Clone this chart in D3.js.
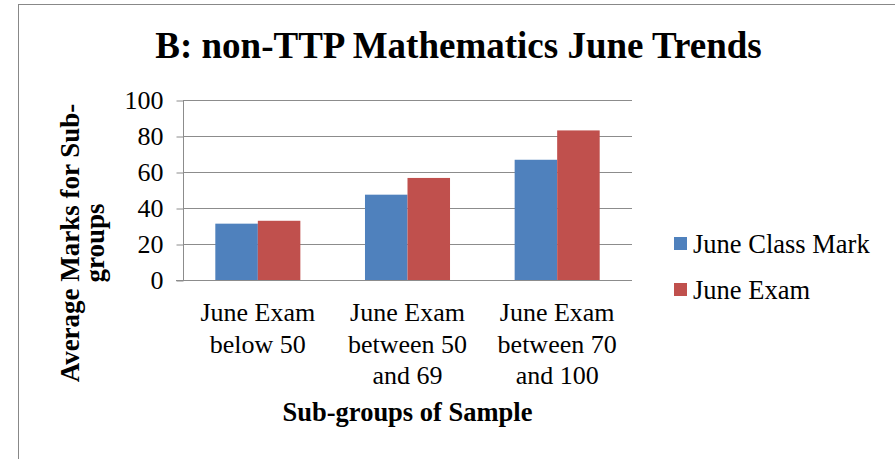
<!DOCTYPE html>
<html>
<head>
<meta charset="utf-8">
<script src="https://cdn.jsdelivr.net/npm/d3@7"></script>
<style>
  body { margin: 0; background: #fff; }
  svg text { font-family: "Liberation Serif", "Times New Roman", Times, serif; }
</style>
</head>
<body>
<svg width="895" height="459"></svg>
<script>
// data
var categories = [["June Exam", "below 50"], ["June Exam", "between 50", "and 69"], ["June Exam", "between 70", "and 100"]];
var seriesNames = ["June Class Mark", "June Exam"];
var classMark = [31.3, 47.4, 66.8];
var examMark = [32.9, 56.7, 83.1];
var yTicks = [0, 20, 40, 60, 80, 100];

var svg = d3.select("svg"),
    margin = { top: 100, left: 183 },
    width = 449,
    height = 180,
    g = svg.append("g").attr("transform", "translate(" + margin.left + "," + margin.top + ")");

// outer chart border
svg.append("rect")
    .attr("x", 18.5).attr("y", 4.5)
    .attr("width", 900).attr("height", 470)
    .attr("fill", "none").attr("stroke", "#888").attr("stroke-width", 1);

var colors = d3.scaleOrdinal().domain(seriesNames).range(["#4F81BD", "#C0504D"]);

var x0 = d3.scaleBand().domain(d3.range(categories.length)).range([0, width]);
var x1 = d3.scaleBand().domain(seriesNames).range([0, x0.bandwidth()]).paddingOuter(0.76);
var y = d3.scaleLinear().domain([0, 100]).range([height, 0]);

// gridlines
g.append("g")
  .selectAll("line")
  .data(yTicks.slice(1))
  .enter().append("line")
    .attr("x1", 0).attr("x2", width)
    .attr("y1", function (d) { return y(d) + 0.5; })
    .attr("y2", function (d) { return y(d) + 0.5; })
    .attr("stroke", "#8c8c8c");

var data = categories.map(function (c, i) { return { i: i, values: [classMark[i], examMark[i]] }; });

g.append("g")
  .selectAll("g")
  .data(data)
  .enter().append("g")
    .attr("transform", function (d) { return "translate(" + x0(d.i) + ",0)"; })
  .selectAll("rect")
  .data(function (d) { return seriesNames.map(function (k, j) { return { key: k, value: d.values[j] }; }); })
  .enter().append("rect")
    .attr("x", function (d) { return x1(d.key); })
    .attr("y", function (d) { return y(d.value); })
    .attr("width", x1.bandwidth())
    .attr("height", function (d) { return height - y(d.value); })
    .attr("fill", function (d) { return colors(d.key); });

// y axis
var yAxis = g.append("g")
    .attr("transform", "translate(0.5,0)")
    .call(d3.axisLeft(y).tickValues(yTicks).tickSize(7).tickPadding(13));
yAxis.attr("font-family", null);
yAxis.select(".domain").attr("stroke", "#8c8c8c").attr("d", "M0,0V" + (height + 0.5));
yAxis.selectAll(".tick line").attr("stroke", "#8c8c8c").attr("transform", "translate(0,0.5)");
yAxis.selectAll(".tick text").attr("font-size", 26).attr("fill", "#000").attr("dy", "0.33em");

// x axis baseline
g.append("line")
    .attr("x1", -7).attr("x2", width)
    .attr("y1", height + 0.5).attr("y2", height + 0.5)
    .attr("stroke", "#8c8c8c");

// category labels
g.append("g")
  .selectAll("text")
  .data(categories)
  .enter().append("text")
    .attr("text-anchor", "middle")
    .attr("font-size", 26)
    .attr("transform", function (d, i) { return "translate(" + (x0(i) + x0.bandwidth() / 2) + "," + (height + 41) + ")"; })
  .selectAll("tspan")
  .data(function (d) { return d; })
  .enter().append("tspan")
    .attr("x", 0)
    .attr("y", function (d, i) { return i * 31.5; })
    .text(function (d) { return d; });

// title
svg.append("text")
    .attr("x", 458.5).attr("y", 58)
    .attr("text-anchor", "middle")
    .attr("font-size", 37).attr("font-weight", "bold")
    .text("B: non-TTP Mathematics June Trends");

// x axis title
svg.append("text")
    .attr("x", 407.5).attr("y", 421)
    .attr("text-anchor", "middle")
    .attr("font-size", 26.5).attr("font-weight", "bold")
    .text("Sub-groups of Sample");

// y axis title
var yTitle = svg.append("text")
    .attr("transform", "translate(79,243) rotate(-90)")
    .attr("text-anchor", "middle")
    .attr("font-size", 27).attr("font-weight", "bold");
yTitle.append("tspan").attr("x", 0).attr("y", 0).text("Average Marks for Sub-");
yTitle.append("tspan").attr("x", 0).attr("y", 25).text("groups");

// legend
var legend = svg.append("g")
  .selectAll("g")
  .data(seriesNames)
  .enter().append("g")
    .attr("transform", function (d, i) { return "translate(674," + (237 + i * 46) + ")"; });

legend.append("rect")
    .attr("width", 13).attr("height", 13)
    .attr("fill", colors);

legend.append("text")
    .attr("x", 19).attr("y", 16)
    .attr("font-size", 26.5)
    .text(function (d) { return d; });
</script>
</body>
</html>
